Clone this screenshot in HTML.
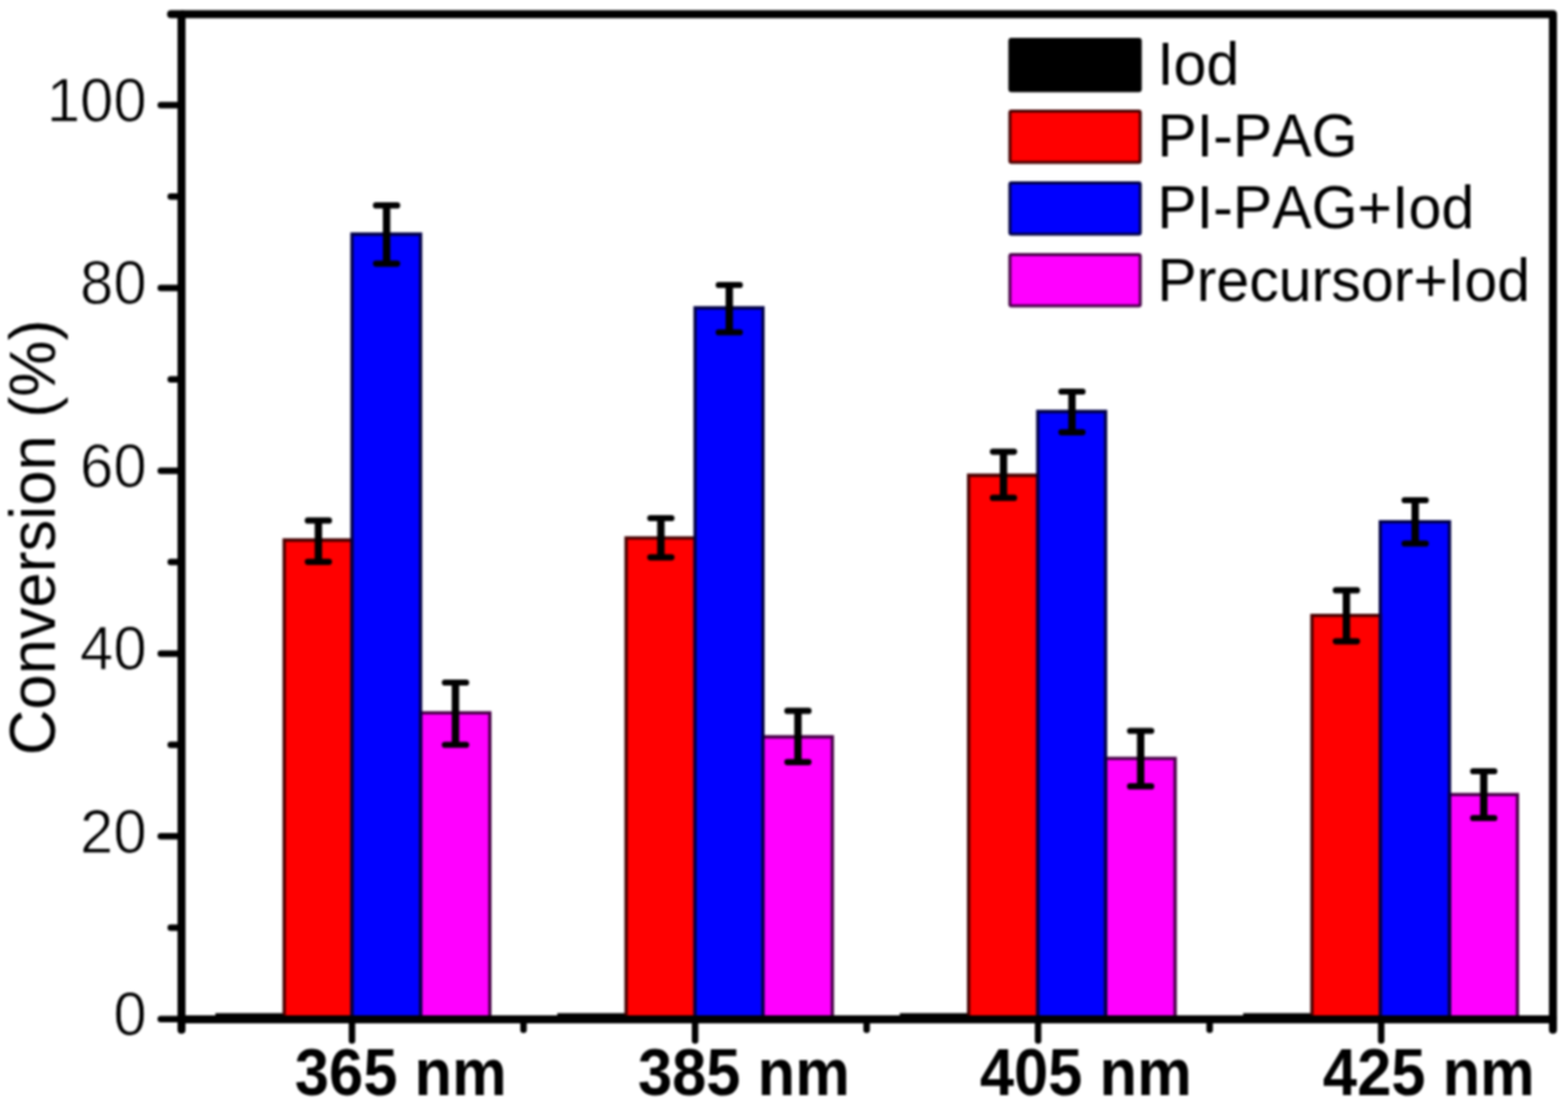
<!DOCTYPE html>
<html lang="en">
<head>
<meta charset="utf-8">
<title>Conversion (%) by wavelength</title>
<style>
html,body{margin:0;padding:0;background:#fff;}
body{width:1573px;height:1119px;overflow:hidden;}
svg{display:block;font-kerning:none;font-family:"Liberation Sans",Arial,Helvetica,sans-serif;}
.ax{stroke:#000;stroke-width:8.0;fill:none;stroke-linecap:butt;stroke-linejoin:round;}
.tk{stroke:#000;stroke-width:6.5;fill:none;stroke-linecap:round;}
.eb{stroke:#000;stroke-width:6.2;fill:none;stroke-linecap:round;}
.es{stroke:#000;stroke-width:7.4;fill:none;stroke-linecap:butt;}
.bo{fill:none;stroke-width:3.3;}
#chart{filter:blur(1.2px);}
.yl{font-size:60px;text-anchor:end;fill:#000;stroke:#fff;stroke-width:0.8px;}
.xl{font-size:61.7px;font-weight:bold;text-anchor:middle;fill:#000;}
.lg{font-size:59.3px;fill:#000;}
.ttl{font-size:63.5px;fill:#000;text-anchor:middle;}
</style>
</head>
<body>
<svg id="chart" width="1573" height="1119" viewBox="0 0 1573 1119">
<rect x="0" y="0" width="1573" height="1119" fill="#ffffff"/>
<g id="bars">

<rect x="216.1" y="1016.8" width="69" height="6" fill="#000"/>
<rect x="421.9" y="715.4" width="69.5" height="307.4" fill="#ff00ff"/>
<rect x="285.1" y="542.0" width="68.0" height="480.8" fill="#ff0000"/>
<rect x="353.1" y="235.0" width="68.8" height="787.8" fill="#0000ff"/>
<path class="bo" stroke="#480048" d="M421.9 1022.8V715.4H491.4V1022.8"/>
<path class="bo" stroke="#480000" d="M285.1 1022.8V542.0H353.1V1022.8"/>
<path class="bo" stroke="#000048" d="M353.1 1022.8V235.0H421.9V1022.8"/>
<rect x="559.1" y="1016.8" width="69" height="6" fill="#000"/>
<rect x="765.4" y="739.5" width="69.6" height="283.3" fill="#ff00ff"/>
<rect x="628.1" y="539.8" width="69.2" height="483.0" fill="#ff0000"/>
<rect x="697.3" y="309.0" width="68.1" height="713.8" fill="#0000ff"/>
<path class="bo" stroke="#480048" d="M765.4 1022.8V739.5H835.0V1022.8"/>
<path class="bo" stroke="#480000" d="M628.1 1022.8V539.8H697.3V1022.8"/>
<path class="bo" stroke="#000048" d="M697.3 1022.8V309.0H765.4V1022.8"/>
<rect x="902.7" y="1016.8" width="69" height="6" fill="#000"/>
<rect x="1109.1" y="761.2" width="69.8" height="261.6" fill="#ff00ff"/>
<rect x="971.7" y="477.0" width="69.4" height="545.8" fill="#ff0000"/>
<rect x="1041.1" y="413.0" width="68.0" height="609.8" fill="#0000ff"/>
<path class="bo" stroke="#480048" d="M1109.1 1022.8V761.2H1178.9V1022.8"/>
<path class="bo" stroke="#480000" d="M971.7 1022.8V477.0H1041.1V1022.8"/>
<path class="bo" stroke="#000048" d="M1041.1 1022.8V413.0H1109.1V1022.8"/>
<rect x="1247.1" y="1016.8" width="69" height="6" fill="#000"/>
<rect x="1454.1" y="797.4" width="68.2" height="225.4" fill="#ff00ff"/>
<rect x="1316.1" y="617.7" width="68.6" height="405.1" fill="#ff0000"/>
<rect x="1384.7" y="523.7" width="69.4" height="499.1" fill="#0000ff"/>
<path class="bo" stroke="#480048" d="M1454.1 1022.8V797.4H1522.3V1022.8"/>
<path class="bo" stroke="#480000" d="M1316.1 1022.8V617.7H1384.7V1022.8"/>
<path class="bo" stroke="#000048" d="M1384.7 1022.8V523.7H1454.1V1022.8"/>
</g>
<g id="errorbars">
<path class="es" d="M319.4 522.4V563.8"/>
<path class="eb" d="M308.8 522.4H330.0M308.8 563.8H330.0"/>
<path class="es" d="M387.8 206.2V264.6"/>
<path class="eb" d="M377.2 206.2H398.4M377.2 264.6H398.4"/>
<path class="es" d="M456.9 685.0V747.5"/>
<path class="eb" d="M446.3 685.0H467.6M446.3 747.5H467.6"/>
<path class="es" d="M663.0 520.0V559.3"/>
<path class="eb" d="M652.4 520.0H673.6M652.4 559.3H673.6"/>
<path class="es" d="M731.6 286.0V333.5"/>
<path class="eb" d="M721.0 286.0H742.2M721.0 333.5H742.2"/>
<path class="es" d="M800.5 713.4V764.8"/>
<path class="eb" d="M789.9 713.4H811.1M789.9 764.8H811.1"/>
<path class="es" d="M1006.7 453.3V499.7"/>
<path class="eb" d="M996.1 453.3H1017.3M996.1 499.7H1017.3"/>
<path class="es" d="M1075.4 393.0V433.8"/>
<path class="eb" d="M1064.8 393.0H1086.0M1064.8 433.8H1086.0"/>
<path class="es" d="M1144.3 733.5V789.2"/>
<path class="eb" d="M1133.7 733.5H1154.9M1133.7 789.2H1154.9"/>
<path class="es" d="M1350.7 592.4V643.6"/>
<path class="eb" d="M1340.1 592.4H1361.3M1340.1 643.6H1361.3"/>
<path class="es" d="M1419.7 502.0V545.5"/>
<path class="eb" d="M1409.1 502.0H1430.3M1409.1 545.5H1430.3"/>
<path class="es" d="M1488.5 774.0V821.0"/>
<path class="eb" d="M1477.9 774.0H1499.1M1477.9 821.0H1499.1"/>
</g>
<g id="axes">
<path class="ax" d="M182.1 14.2H1557.9V1023.0999999999999M182.1 14.2V1023.0999999999999M182.1 1023.0999999999999H1557.9"/>
<path class="ax" style="stroke-linecap:round" d="M171.6 14.2H182.1M182.1 1022.8V1033.6M1557.9 1022.8V1033.6"/>
<path class="tk" d="M161.3 1022.8H182.1"/>
<path class="tk" d="M171.3 931.1H182.1"/>
<path class="tk" d="M161.3 839.3H182.1"/>
<path class="tk" d="M171.3 747.6H182.1"/>
<path class="tk" d="M161.3 655.9H182.1"/>
<path class="tk" d="M171.3 564.1H182.1"/>
<path class="tk" d="M161.3 472.4H182.1"/>
<path class="tk" d="M171.3 380.7H182.1"/>
<path class="tk" d="M161.3 289.0H182.1"/>
<path class="tk" d="M171.3 197.2H182.1"/>
<path class="tk" d="M161.3 105.5H182.1"/>
<path class="tk" d="M353.1 1022.8V1044.3"/>
<path class="tk" d="M697.3 1022.8V1044.3"/>
<path class="tk" d="M1041.4 1022.8V1044.3"/>
<path class="tk" d="M1385.6 1022.8V1044.3"/>
<path class="tk" d="M525.2 1022.8V1033.5"/>
<path class="tk" d="M869.4 1022.8V1033.5"/>
<path class="tk" d="M1213.5 1022.8V1033.5"/>
</g>
<g id="labels">
<text class="yl" transform="translate(147.0,1039.0) scale(1,1.06)">0</text>
<text class="yl" transform="translate(147.0,855.5) scale(1,1.06)">20</text>
<text class="yl" transform="translate(147.0,672.1) scale(1,1.06)">40</text>
<text class="yl" transform="translate(147.0,488.6) scale(1,1.06)">60</text>
<text class="yl" transform="translate(147.0,305.2) scale(1,1.06)">80</text>
<text class="yl" transform="translate(147.0,121.7) scale(1,1.06)">100</text>
<text class="xl" transform="translate(402.1,1098.6) scale(1,1.07)">365 nm</text>
<text class="xl" transform="translate(746.2,1098.6) scale(1,1.07)">385 nm</text>
<text class="xl" transform="translate(1089.2,1098.6) scale(1,1.07)">405 nm</text>
<text class="xl" transform="translate(1433.4,1098.6) scale(1,1.07)">425 nm</text>
<text class="ttl" transform="translate(54.5,539.3) rotate(-90) scale(1,1.03)">Conversion (%)</text>
</g>
<g id="legend">
<rect x="1013.1" y="39.5" width="130.8" height="51.4" rx="1.5" fill="#000" stroke="#000" stroke-width="3"/>
<text class="lg" transform="translate(1160.9,85.2) scale(1,1.04)">Iod</text>
<rect x="1013.1" y="111.5" width="130.8" height="51.4" rx="1.5" fill="#ff0000" stroke="#480000" stroke-width="3"/>
<text class="lg" transform="translate(1160.9,157.3) scale(1,1.04)">PI-PAG</text>
<rect x="1013.1" y="183.5" width="130.8" height="51.4" rx="1.5" fill="#0000ff" stroke="#000048" stroke-width="3"/>
<text class="lg" transform="translate(1160.9,229.4) scale(1,1.04)">PI-PAG+Iod</text>
<rect x="1013.1" y="255.5" width="130.8" height="51.4" rx="1.5" fill="#ff00ff" stroke="#480048" stroke-width="3"/>
<text class="lg" transform="translate(1160.9,301.5) scale(1,1.04)">Precursor+Iod</text>
</g>
</svg>
</body>
</html>
